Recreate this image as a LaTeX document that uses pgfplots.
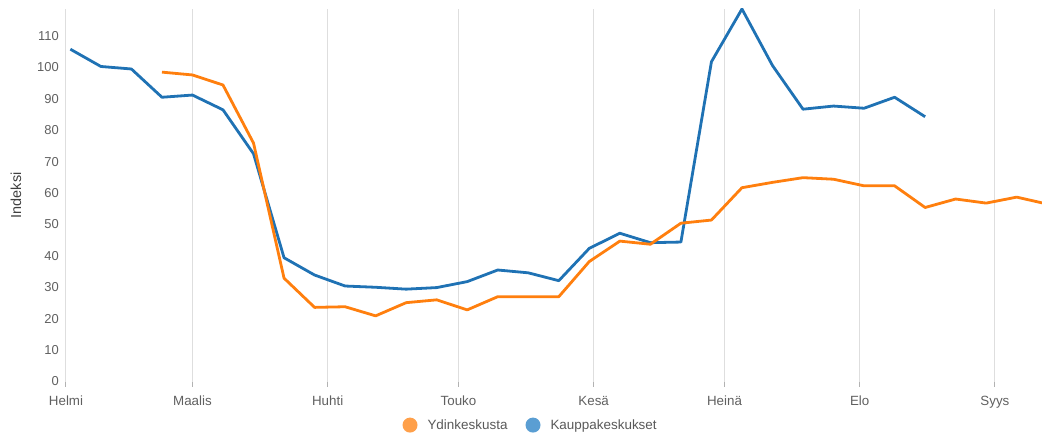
\documentclass[border=0pt]{standalone}
\usepackage{pgfplots}
\pgfplotsset{compat=1.18}
\usepackage{fontspec}
\setmainfont{Liberation Sans}
\definecolor{cblue}{HTML}{1F72B4}
\definecolor{corange}{HTML}{FF7F0E}
\definecolor{lblue}{HTML}{5A9ED3}
\definecolor{lorange}{HTML}{FFA04A}
\definecolor{tickgray}{HTML}{606060}
\begin{document}
\begin{tikzpicture}
\useasboundingbox (-66bp,-56.5bp) rectangle (976bp,381.5bp);
\begin{axis}[
  at={(0,0)}, anchor=south west,
  scale only axis, width=976bp, height=372.5bp,
  xmin=0, xmax=223.8, ymin=0, ymax=118.6,
  axis x line*=bottom, axis y line*=left,
  axis line style={draw=none},
  xtick={0,29,60,90,121,151,182,213},
  xticklabels={Helmi,Maalis,Huhti,Touko,Kesä,Heinä,Elo,Syys},
  ytick={0,10,...,110},
  xmajorgrids, grid style={color=black!13, line width=1bp},
  tick align=outside,
  xtick style={draw=black!30, line width=1bp},
  major tick length=5bp,
  ytick style={draw=none},
  /pgf/number format/assume math mode=true,
  xticklabel style={font=\fontsize{13.4}{15}\selectfont, text=tickgray, anchor=base, inner sep=0pt, yshift=-19bp},
  yticklabel style={font=\fontsize{13}{15}\selectfont, text=tickgray, anchor=east, inner sep=0pt, xshift=-2bp},
  ylabel={Indeksi},
  ylabel style={at={(axis description cs:-0.0512,0.5)}, anchor=center, font=\fontsize{14.5}{16}\selectfont, text=black!75},
  legend image code/.code={\fill (7.5bp,0bp) circle (7.5bp);},
  legend style={draw=none, fill=none, at={(axis description cs:0.475,-0.117)}, anchor=center,
    legend columns=2, font=\fontsize{13.5}{15}\selectfont, text=black!65,
    nodes={inner sep=0pt},
    /tikz/every odd column/.append style={column sep=10bp},
    /tikz/every even column/.append style={column sep=18bp}},
  legend cell align=left,
]
\addlegendimage{fill=lorange, draw=none}
\addlegendentry{Ydinkeskusta}
\addlegendimage{fill=lblue, draw=none}
\addlegendentry{Kauppakeskukset}
\addplot[forget plot, color=cblue, line width=2.8bp, line join=round] coordinates {
(1,105.8) (8,100.3) (15,99.5) (22,90.5) (29,91.2) (36,86.5) (43,72.5) (50,39.4)
(57,33.9) (64,30.4) (71,30.0) (78,29.4) (85,29.9) (92,31.8) (99,35.5) (106,34.6)
(113,32.1) (120,42.4) (127,47.2) (134,44.2) (141,44.4) (148,101.8) (155,118.6)
(162,100.6) (169,86.7) (176,87.7) (183,87.0) (190,90.5) (197,84.3)
};
\addplot[forget plot, color=corange, line width=2.8bp, line join=round] coordinates {
(22,98.5) (29,97.6) (36,94.4) (43,75.9) (50,32.9) (57,23.6) (64,23.8) (71,20.9)
(78,25.1) (85,26.0) (92,22.8) (99,27.0) (106,27.0) (113,27.0) (120,38.2) (127,44.7)
(134,43.7) (141,50.4) (148,51.4) (155,61.7) (162,63.4) (169,64.9) (176,64.4)
(183,62.3) (190,62.3) (197,55.4) (204,58.1) (211,56.8) (218,58.7) (225,56.5)
};
\end{axis}
\end{tikzpicture}
\end{document}
